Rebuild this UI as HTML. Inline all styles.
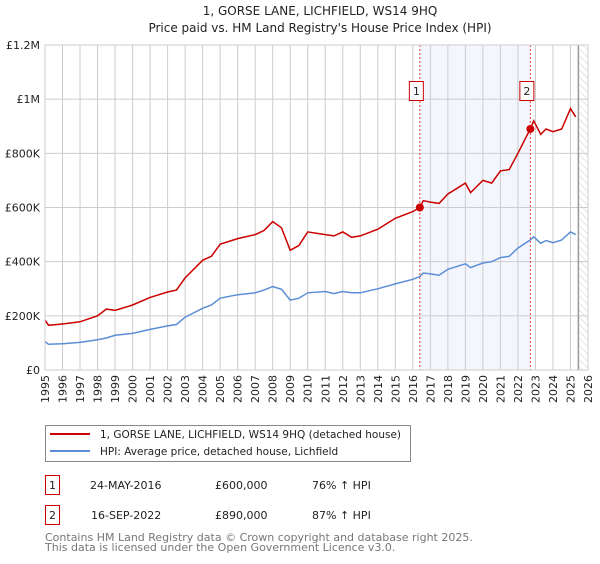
<!DOCTYPE html>
<html><head><meta charset="utf-8">
<style>
body{margin:0;background:#fff;font-family:"DejaVu Sans","Liberation Sans",sans-serif;}
svg text{font-family:"DejaVu Sans","Liberation Sans",sans-serif;}
</style></head>
<body>
<svg id="chart" width="600" height="560">
<defs>
<pattern id="hatch" width="5" height="5" patternUnits="userSpaceOnUse" patternTransform="rotate(-45)">
<line x1="0" y1="0" x2="0" y2="5" stroke="#ccc" stroke-width="1"/>
</pattern>
</defs>
<text x="320" y="15" text-anchor="middle" font-size="12" fill="#222">1, GORSE LANE, LICHFIELD, WS14 9HQ</text>
<text x="320" y="32" text-anchor="middle" font-size="12" fill="#222">Price paid vs. HM Land Registry's House Price Index (HPI)</text>
<g id="plot"></g>
<g>
<rect x="45.5" y="425.5" width="365" height="36" fill="#fff" stroke="#888"/>
<line x1="50" y1="434" x2="90" y2="434" stroke="#cc0000" stroke-width="2"/>
<text x="100" y="438" font-size="10.5" fill="#222">1, GORSE LANE, LICHFIELD, WS14 9HQ (detached house)</text>
<line x1="50" y1="451" x2="90" y2="451" stroke="#5b8ed6" stroke-width="2"/>
<text x="100" y="455" font-size="10.5" fill="#222">HPI: Average price, detached house, Lichfield</text>
</g>
<g>
<rect x="45.5" y="475.5" width="14" height="19" fill="#fff" stroke="#cc0000"/>
<text x="52.5" y="489" font-size="11" text-anchor="middle" fill="#222">1</text>
<text x="90" y="489" font-size="11" fill="#222">24-MAY-2016</text>
<text x="215" y="489" font-size="11" fill="#222">£600,000</text>
<text x="312" y="489" font-size="11" fill="#222">76% ↑ HPI</text>
<rect x="45.5" y="505.5" width="14" height="19" fill="#fff" stroke="#cc0000"/>
<text x="52.5" y="519" font-size="11" text-anchor="middle" fill="#222">2</text>
<text x="91" y="519" font-size="11" fill="#222">16-SEP-2022</text>
<text x="215" y="519" font-size="11" fill="#222">£890,000</text>
<text x="312" y="519" font-size="11" fill="#222">87% ↑ HPI</text>
</g>
<text x="45" y="541" font-size="11" fill="#777">Contains HM Land Registry data © Crown copyright and database right 2025.</text>
<text x="45" y="551" font-size="11" fill="#777">This data is licensed under the Open Government Licence v3.0.</text>
</svg>
<script>
const years=[1995,1995.2,1996,1997,1998,1998.5,1999,2000,2001,2002,2002.5,2003,2004,2004.5,2005,2006,2007,2007.5,2008,2008.5,2009,2009.5,2010,2011,2011.5,2012,2012.5,2013,2014,2015,2016,2016.4,2016.6,2017,2017.5,2018,2019,2019.3,2020,2020.5,2021,2021.5,2022,2022.7,2022.9,2023.3,2023.6,2024,2024.5,2025,2025.3];
const priceValues=[185,165,170,178,200,225,220,240,268,288,295,340,405,420,465,485,500,515,548,525,442,460,510,500,495,510,490,495,520,560,585,600,625,620,615,650,690,655,700,690,735,740,800,890,920,870,890,880,890,965,935];
const hpiValues=[105,95,97,102,112,118,128,135,150,163,168,195,228,240,265,278,285,295,308,298,258,265,285,290,282,290,285,285,300,318,335,345,358,355,350,372,392,378,395,400,415,420,450,480,492,468,478,470,480,510,500];
const yTicks=[0,200,400,600,800,1000,1200];
const yTickLabels=["£0","£200K","£400K","£600K","£800K","£1M","£1.2M"];
const xTicks=[1995,1996,1997,1998,1999,2000,2001,2002,2003,2004,2005,2006,2007,2008,2009,2010,2011,2012,2013,2014,2015,2016,2017,2018,2019,2020,2021,2022,2023,2024,2025,2026];
const sales=[{label:"1",year:2016.4,value:600},{label:"2",year:2022.71,value:890}];
const L=45,R=588,T=45,B=370,x0=1995,x1=2026,yMax=1200,dataEnd=2025.45;
const xs=v=>L+(v-x0)/(x1-x0)*(R-L);
const ys=v=>B-v/yMax*(B-T);
const NS="http://www.w3.org/2000/svg";
const g=document.getElementById('plot');
function mk(t,a){const e=document.createElementNS(NS,t);for(const k in a)e.setAttribute(k,a[k]);g.appendChild(e);return e;}
let e;
e=mk('rect',{x:xs(sales[0].year),y:T,width:xs(sales[1].year)-xs(sales[0].year),height:B-T,fill:'#eef3fc',opacity:0.7});


e=mk('rect',{x:xs(dataEnd),y:T,width:R-xs(dataEnd),height:B-T,fill:'url(#hatch)'});


xTicks.forEach(v=>{
 e=mk('line',{x1:xs(v),x2:xs(v),y1:T,y2:B,stroke:'#ccc','stroke-width':1});
 
 
 e=mk('text',{x:0,y:0,'font-size':11,fill:'#222','text-anchor':'end',transform:`translate(${xs(v)+4},${B+5}) rotate(-90)`});
 e.textContent=v;
 
 
});
yTicks.forEach((v,i)=>{
 e=mk('line',{x1:L,x2:R,y1:ys(v),y2:ys(v),stroke:'#ccc','stroke-width':1});
 
 
 e=mk('text',{x:L-5,y:ys(v)+4,'font-size':11,fill:'#222','text-anchor':'end'});
 e.textContent=yTickLabels[i];
 
 
});
e=mk('line',{x1:xs(dataEnd),x2:xs(dataEnd),y1:T,y2:B,stroke:'#999','stroke-width':1.5});


sales.forEach(s=>{
 e=mk('line',{x1:xs(s.year),x2:xs(s.year),y1:T,y2:B,stroke:'#e04040','stroke-width':1,'stroke-dasharray':'2,2'});
 
 
});
function path(vals){return vals.map((v,i)=>(i?'L':'M')+xs(years[i]).toFixed(1)+','+ys(v).toFixed(1)).join('');}
e=mk('path',{d:path(hpiValues),fill:'none',stroke:'#5b8ed6','stroke-width':1.5});


e=mk('path',{d:path(priceValues),fill:'none',stroke:'#cc0000','stroke-width':1.5});


sales.forEach(s=>{
 e=mk('circle',{cx:xs(s.year),cy:ys(s.value),r:4,fill:'#cc0000'});
 
 
 const bx=xs(s.year)-10;
 e=mk('rect',{x:bx-0.5,y:81.5,width:14,height:19,fill:'#fff',stroke:'#cc0000'});
 
 
 e=mk('text',{x:bx+6.5,y:95,'font-size':11,'text-anchor':'middle',fill:'#222'});
 e.textContent=s.label;
 
 
});
e=mk('rect',{x:L,y:T,width:R-L,height:B-T,fill:'none',stroke:'#ccc'});


</script>
</body></html>
